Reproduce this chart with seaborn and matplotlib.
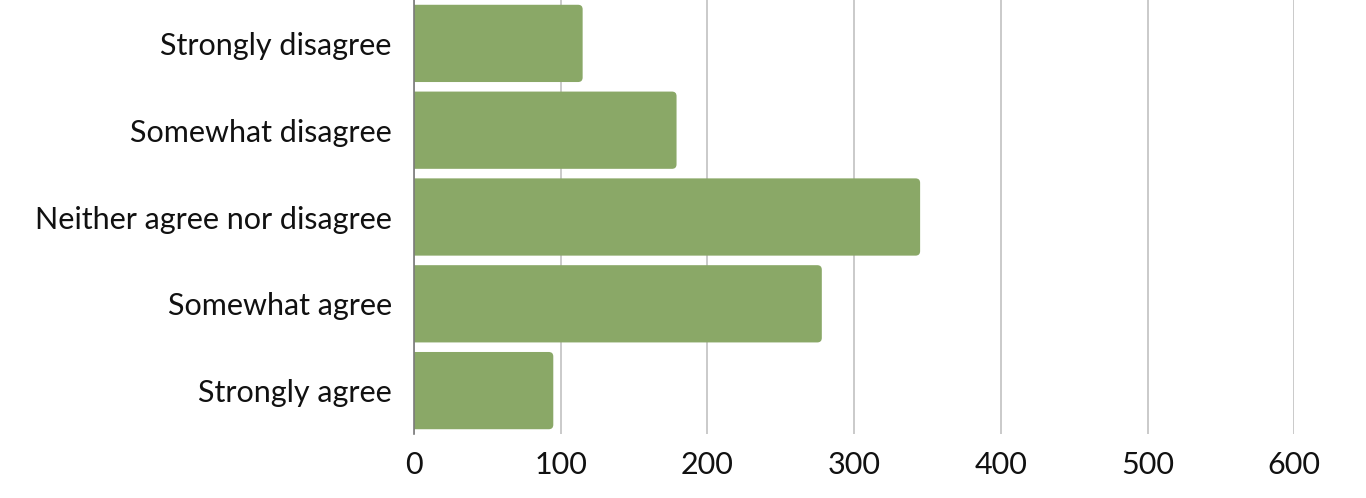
import matplotlib
matplotlib.use("Agg")
from matplotlib import pyplot as plt
from matplotlib.path import Path
from matplotlib.patches import PathPatch
import pandas as pd
import seaborn as sns

responses = ["Strongly disagree", "Somewhat disagree", "Neither agree nor disagree",
             "Somewhat agree", "Strongly agree"]
counts = [115, 179, 345, 278, 95]
x_ticks = [0, 100, 200, 300, 400, 500, 600]

bar_color = "#8aa867"
df = pd.DataFrame({"response": responses, "count": counts})

sns.set_style("white")
plt.rcParams["font.family"] = ["Lato", "DejaVu Sans"]

fig = plt.figure(figsize=(13.66, 4.98), dpi=100)
ax = fig.add_axes([0.303, 0.1285, 0.6445, 0.8715])
sns.barplot(data=df, x="count", y="response", color=bar_color, saturation=1,
            width=0.89, ax=ax, zorder=3)

# swap each bar for a copy with rounded right corners
rx, ry = 3.1, 0.052
for p in list(ax.patches):
    x, y, w, h = p.get_x(), p.get_y(), p.get_width(), p.get_height()
    verts = [(x, y), (x + w - rx, y), (x + w, y), (x + w, y + ry),
             (x + w, y + h - ry), (x + w, y + h), (x + w - rx, y + h),
             (x, y + h), (x, y)]
    codes = [Path.MOVETO, Path.LINETO, Path.CURVE3, Path.CURVE3,
             Path.LINETO, Path.CURVE3, Path.CURVE3, Path.LINETO, Path.CLOSEPOLY]
    ax.add_patch(PathPatch(Path(verts, codes), facecolor=bar_color,
                           edgecolor="none", zorder=3))
    p.remove()

ax.set_xlim(0, 600)
ax.set_ylim(4.5, -0.5)
ax.set_xticks(x_ticks)
ax.set_xlabel("")
ax.set_ylabel("")
ax.grid(axis="x", color="#c6c6c6", linewidth=1.3, zorder=0)
ax.set_axisbelow(True)
for s in ["top", "right", "bottom"]:
    ax.spines[s].set_visible(False)
ax.spines["left"].set_color("#7a7a7a")
ax.spines["left"].set_linewidth(1.2)
ax.spines["left"].set_zorder(4)
ax.tick_params(axis="y", length=0, pad=16, labelsize=22, labelcolor="#111111")
ax.tick_params(axis="x", length=0, pad=12, labelsize=22, labelcolor="#111111")

fig.savefig("out.png", dpi=100)
